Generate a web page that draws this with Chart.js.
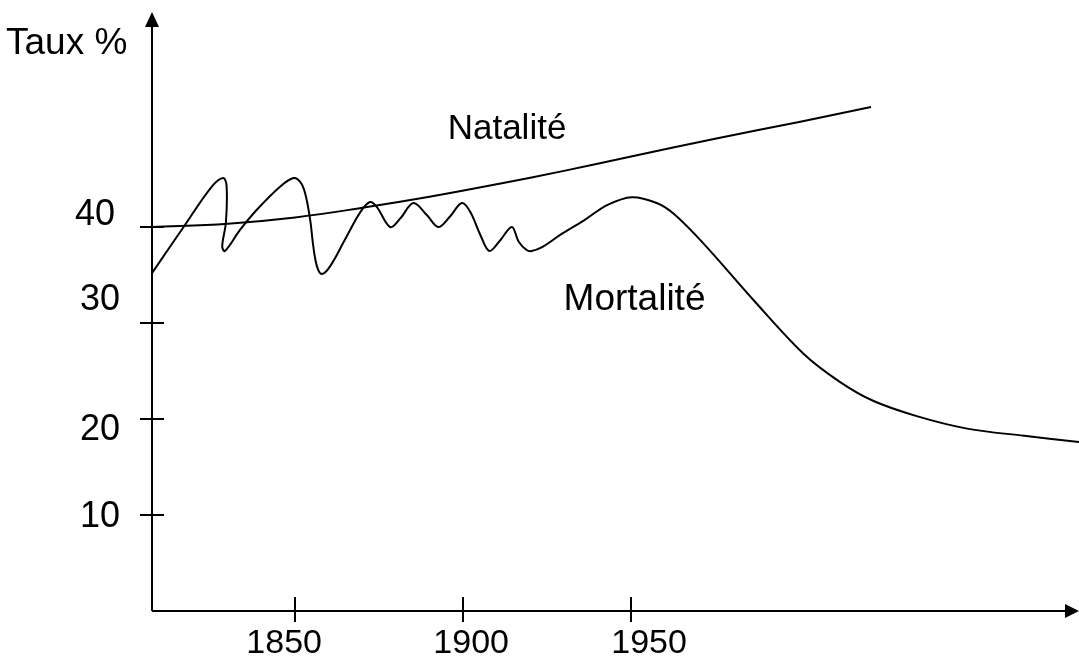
<!DOCTYPE html>
<html>
<head>
<meta charset="utf-8">
<script src="https://cdn.jsdelivr.net/npm/chart.js@4"></script>
<style>
  html, body { margin: 0; padding: 0; background: #fff; }
  canvas { display: block; }
</style>
</head>
<body>
<canvas id="chart" width="1079" height="659"></canvas>
<script>
// Natalité (birth rate)
const natYears = [1807.4, 1830, 1850, 1870, 1890, 1910, 1930, 1950, 1975, 2000, 2021.4];
const natRates = [40.0, 40.35, 41.0, 42.0, 43.15, 44.45, 45.85, 47.35, 49.2, 50.95, 52.5];

// Mortalité (death rate)
const mortYears = [1807.4, 1816.8, 1825.2, 1828.6, 1829.6, 1829.4, 1828.3, 1829.1, 1833.6, 1838.6,
  1845.5, 1849.5, 1851.5, 1853.0, 1854.5, 1855.4, 1856.5, 1857.9, 1860.4, 1865.0,
  1869.5, 1872.3, 1874.3, 1878.3, 1881.3, 1885.2, 1889.2, 1892.6, 1896.1, 1899.6,
  1902.1, 1905.1, 1907.8, 1911.0, 1914.5, 1916.5, 1918.9, 1920.4, 1923.5, 1929.0,
  1936.0, 1943.0, 1950.2, 1957.6, 1962.6, 1971.5, 1986.4, 2001.3, 2012.0, 2022.0,
  2035.0, 2050.0, 2067.0, 2083.3];
const mortRates = [35.2, 40.0, 44.2, 45.1, 44.3, 40.5, 38.0, 37.5, 39.7, 41.8,
  44.2, 45.1, 44.7, 43.5, 40.7, 38.0, 35.9, 35.1, 35.9, 38.8,
  41.6, 42.6, 42.1, 40.0, 40.9, 42.5, 41.25, 40.0, 41.1, 42.5,
  41.6, 39.2, 37.5, 38.6, 40.0, 38.5, 37.6, 37.5, 37.9, 39.2,
  40.7, 42.3, 43.1, 42.5, 41.4, 38.3, 32.4, 26.8, 23.9, 21.9,
  20.3, 19.0, 18.25, 17.6];

const yTicks = [10, 20, 30, 40];
const xTicks = [1850, 1900, 1950];
const yTitle = 'Taux %';
const natLabel = 'Natalité';
const mortLabel = 'Mortalité';

const FAMILY = '"Liberation Sans", Arial, sans-serif';

function toPoints(xs, ys) {
  return xs.map((x, i) => ({ x, y: ys[i] }));
}

// hand-drawn axes, crossing ticks, labels
const sketchAxes = {
  id: 'sketchAxes',
  afterDraw(chart) {
    const { ctx, chartArea } = chart;
    const xs = chart.scales.x;
    const ys = chart.scales.y;
    const left = chartArea.left;
    const base = ys.getPixelForValue(0);

    ctx.save();
    ctx.strokeStyle = '#000';
    ctx.fillStyle = '#000';
    ctx.lineWidth = 2;

    // axis lines
    ctx.beginPath();
    ctx.moveTo(left, base);
    ctx.lineTo(left, chartArea.top + 4);
    ctx.moveTo(left, base);
    ctx.lineTo(chartArea.right - 4, base);
    ctx.stroke();

    // arrow heads
    ctx.beginPath();
    ctx.moveTo(left, chartArea.top);
    ctx.lineTo(left - 7, chartArea.top + 15);
    ctx.lineTo(left + 7, chartArea.top + 15);
    ctx.closePath();
    ctx.fill();
    ctx.beginPath();
    ctx.moveTo(chartArea.right, base);
    ctx.lineTo(chartArea.right - 14, base - 7);
    ctx.lineTo(chartArea.right - 14, base + 7);
    ctx.closePath();
    ctx.fill();

    // y ticks
    ctx.beginPath();
    yTicks.forEach(v => {
      const py = Math.round(ys.getPixelForValue(v));
      ctx.moveTo(left - 12, py);
      ctx.lineTo(left + 12, py);
    });
    // x ticks
    xTicks.forEach(v => {
      const px = Math.round(xs.getPixelForValue(v));
      ctx.moveTo(px, base - 14);
      ctx.lineTo(px, base + 11);
    });
    ctx.stroke();

    ctx.textBaseline = 'alphabetic';

    // y labels, placed loosely as in the sketch
    const yShift = { 10: [0, 12], 20: [0, 21], 30: [0, -13], 40: [-5, -2] };
    ctx.font = '36px ' + FAMILY;
    ctx.textAlign = 'right';
    yTicks.forEach(v => {
      const [dx, dy] = yShift[v];
      ctx.fillText(String(v), left - 32 + dx, ys.getPixelForValue(v) + dy);
    });

    // x labels
    const xShift = { 1850: -11, 1900: 8, 1950: 18 };
    ctx.font = '34px ' + FAMILY;
    ctx.textAlign = 'center';
    xTicks.forEach(v => {
      ctx.fillText(String(v), xs.getPixelForValue(v) + xShift[v], base + 42);
    });

    // titles
    ctx.textAlign = 'left';
    ctx.font = '37px ' + FAMILY;
    ctx.fillText(yTitle, 6, 54);
    ctx.fillText(mortLabel, xs.getPixelForValue(1929.9), ys.getPixelForValue(31.35));
    ctx.font = '35px ' + FAMILY;
    ctx.fillText(natLabel, xs.getPixelForValue(1895.4), ys.getPixelForValue(49.2));
    ctx.restore();
  }
};

const lineStyle = {
  borderColor: '#000',
  borderWidth: 2,
  pointRadius: 0,
  showLine: true,
  fill: false,
  tension: 0.4,
};

new Chart(document.getElementById('chart'), {
  type: 'scatter',
  data: {
    datasets: [
      { label: natLabel, data: toPoints(natYears, natRates), ...lineStyle },
      { label: mortLabel, data: toPoints(mortYears, mortRates), ...lineStyle, tension: 0.35 },
    ],
  },
  options: {
    responsive: false,
    animation: false,
    layout: { padding: { left: 152, right: 0, top: 12, bottom: 48 } },
    plugins: { legend: { display: false }, tooltip: { enabled: false } },
    scales: {
      x: { type: 'linear', display: false, min: 1807.4, max: 2083.3 },
      y: { type: 'linear', display: false, min: 0, max: 62.4 },
    },
  },
  plugins: [sketchAxes],
});
</script>
</body>
</html>
